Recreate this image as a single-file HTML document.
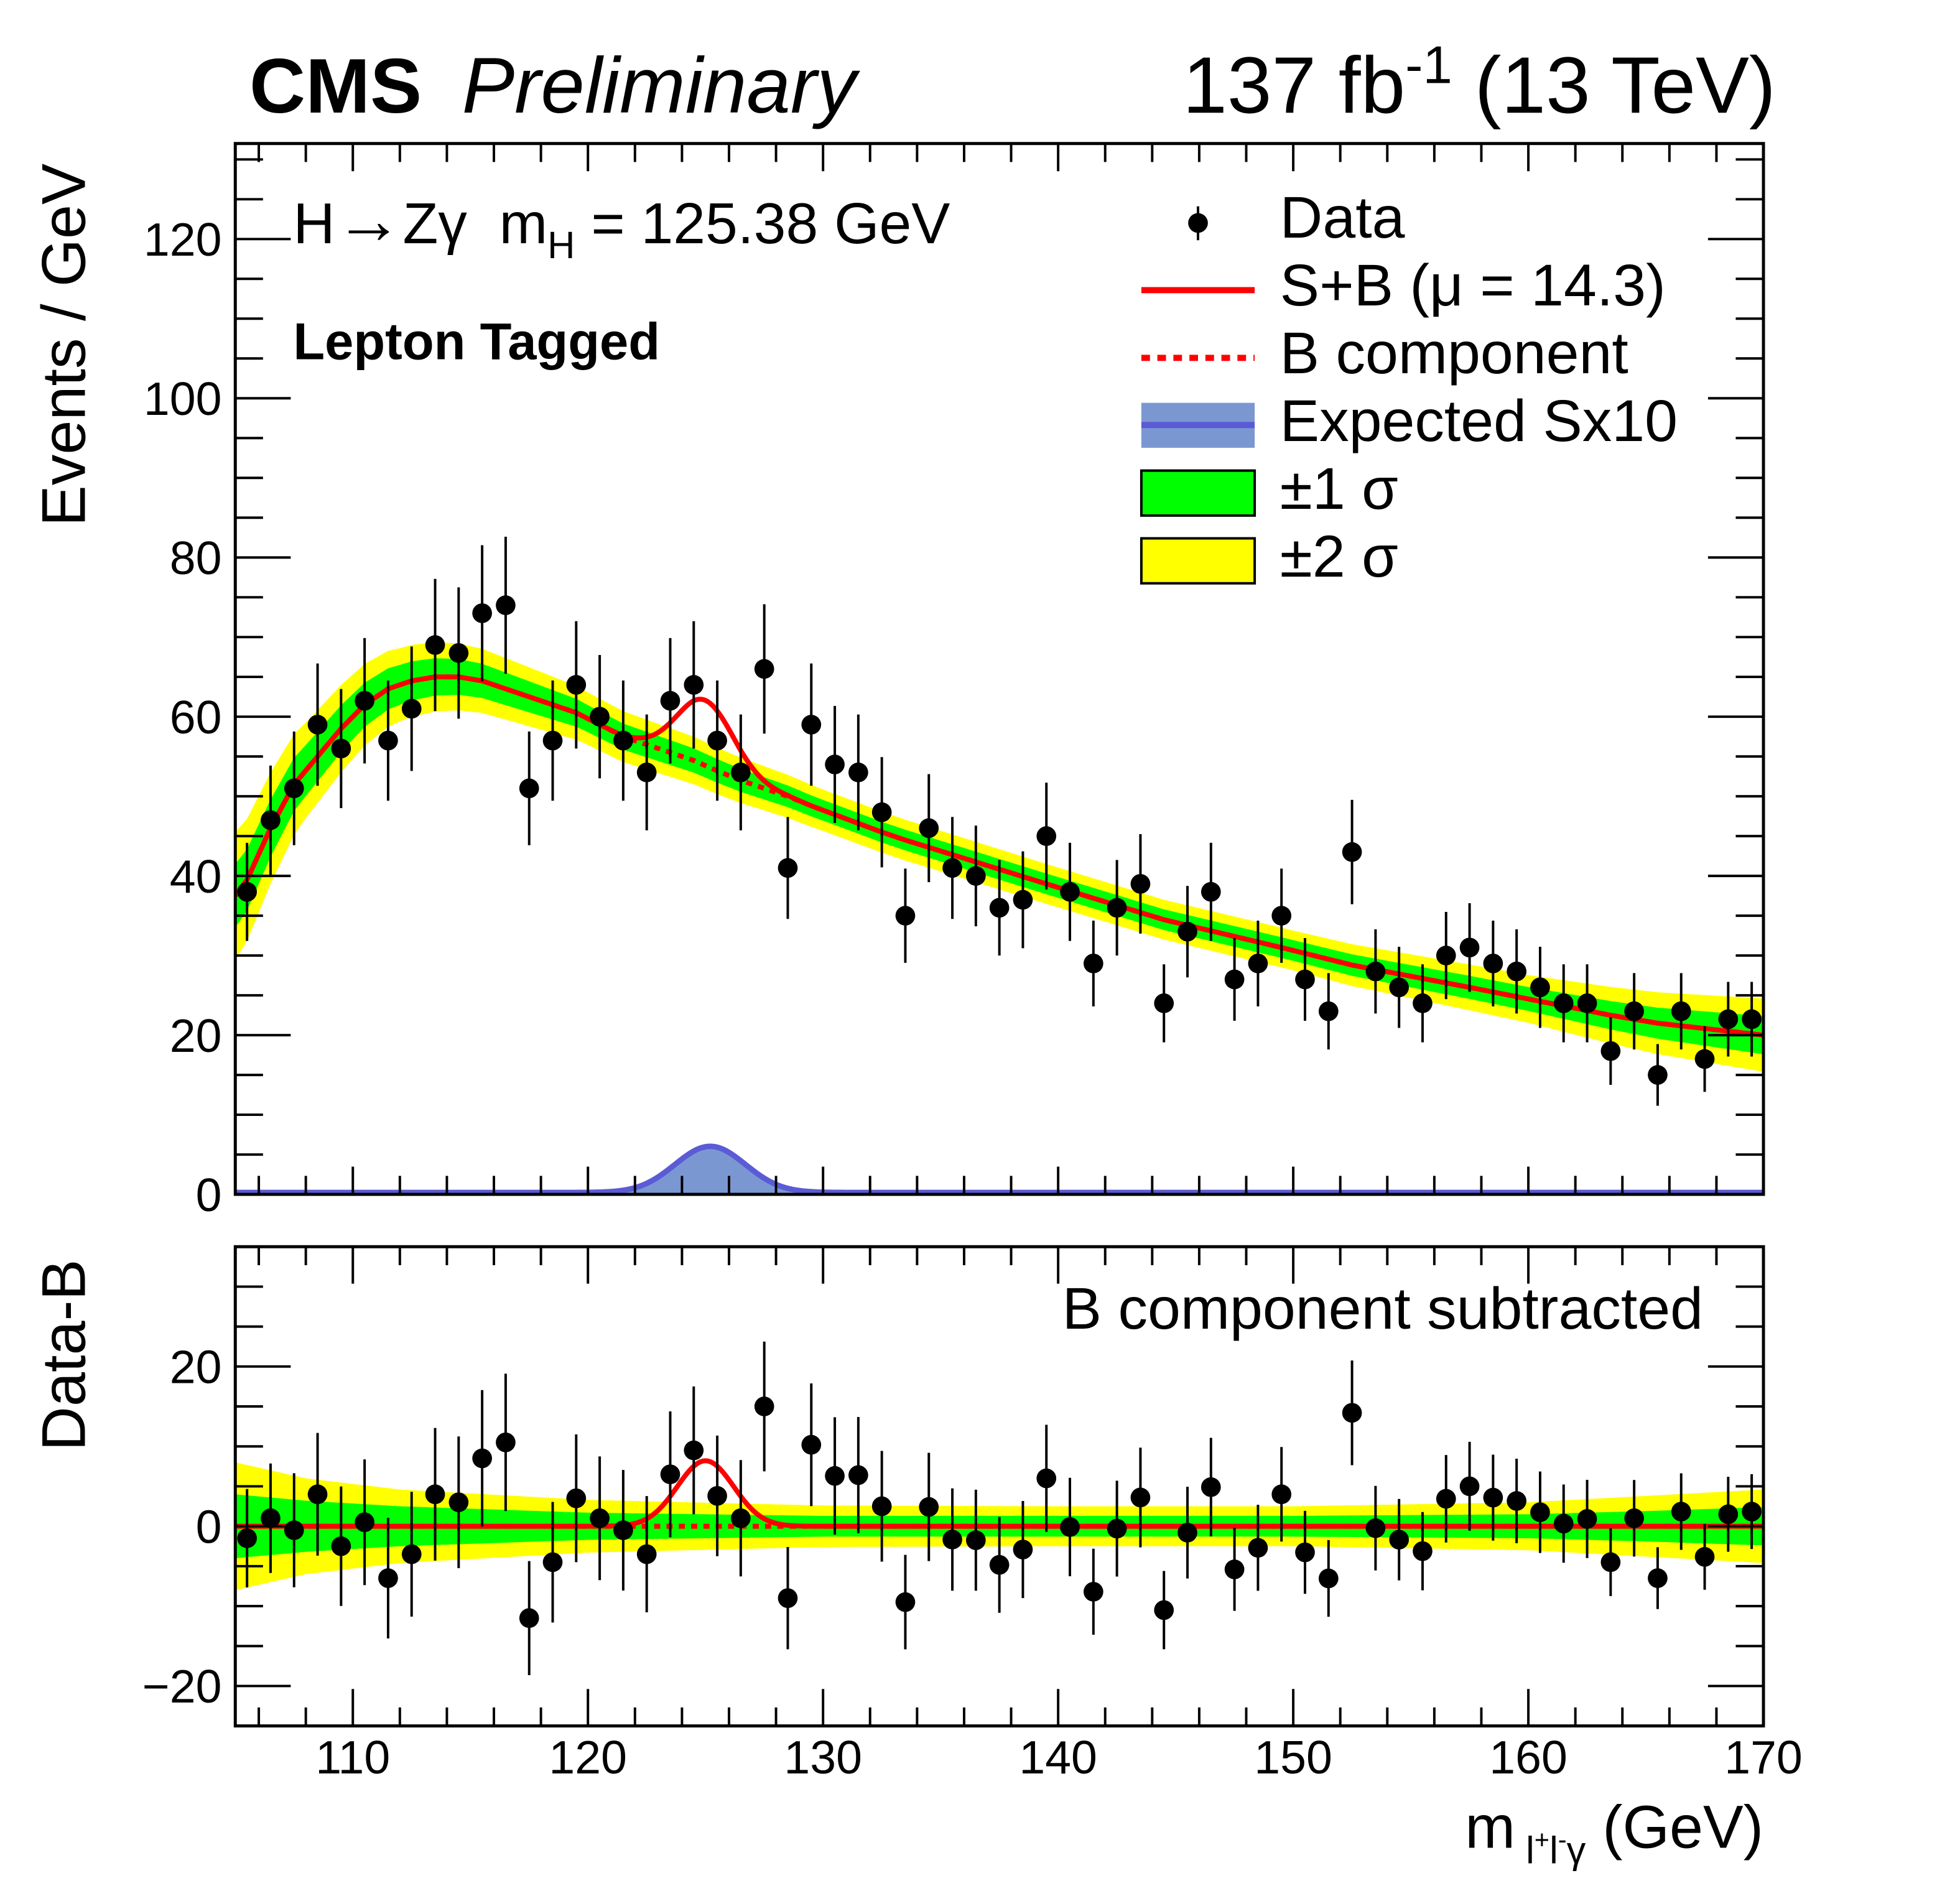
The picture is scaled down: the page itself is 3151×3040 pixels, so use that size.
<!DOCTYPE html>
<html><head><meta charset="utf-8"><style>
html,body{margin:0;padding:0;background:#fff;}
svg{display:block;font-family:"Liberation Sans",Arial,sans-serif;}
</style></head><body>
<svg id="c" width="3151" height="3040" viewBox="0 0 3182 3070" preserveAspectRatio="xMinYMin meet" xmlns="http://www.w3.org/2000/svg"></svg>
<script>
const binCenters=[105.5,106.5,107.5,108.5,109.5,110.5,111.5,112.5,113.5,114.5,115.5,116.5,117.5,118.5,119.5,120.5,121.5,122.5,123.5,124.5,125.5,126.5,127.5,128.5,129.5,130.5,131.5,132.5,133.5,134.5,135.5,136.5,137.5,138.5,139.5,140.5,141.5,142.5,143.5,144.5,145.5,146.5,147.5,148.5,149.5,150.5,151.5,152.5,153.5,154.5,155.5,156.5,157.5,158.5,159.5,160.5,161.5,162.5,163.5,164.5,165.5,166.5,167.5,168.5,169.5];
const dataCounts=[38,47,51,59,56,62,57,61,69,68,73,74,51,57,64,60,57,53,62,64,57,53,66,41,59,54,53,48,35,46,41,40,36,37,45,38,29,36,39,24,33,38,27,29,35,27,23,43,28,26,24,30,31,29,28,26,24,24,18,23,15,23,17,22,22];
const bkgMass=[105,105.5,106.5,107.5,108.5,109.5,110.5,111.5,112.5,113.5,114.5,115.5,116.5,117.5,118.5,119.5,120.5,121.5,122.5,123.5,124.5,125.5,126.5,127.5,128.5,129.5,132.5,133.5,139.5,144.5,149.5,152.5,157.5,163.5,165.5,170];
const bkgValue=[37.5,39.5,46,51.5,55,58.5,61.5,63.5,64.5,65,65,64.5,63.5,62.5,61.5,60.5,59,57.5,56.5,55.5,54.5,53.2,52,51,50,48.8,45.5,44.5,39,34.5,31,28.8,26,22.5,21.5,20];
const bandMass=[105,108,112,120,130,140,150,160,165,170];
const band1=[4,3.2,2.5,1.7,1.3,1.3,1.3,1.5,1.9,2.4];
const band2=[8,6,4.6,3.3,2.6,2.5,2.5,3,3.8,4.6];
const sigFit=[125.0,8.2,1.2];   // mass, peak, width
const sigExp=[125.2,5.8,1.5];
const xTicks=[110,120,130,140,150,160,170];
const yTicksTop=[0,20,40,60,80,100,120];
const yTicksBot=[-20,0,20];

const NS="http://www.w3.org/2000/svg";
const svg=document.getElementById('c');
const L=382,R=2863,T1=233,B1=1939,T2=2024,B2=2802;
const xmin=105,xmax=170;
const X=v=>L+(v-xmin)/(xmax-xmin)*(R-L);
const Y1=v=>B1-v/132*(B1-T1);
const Y2=v=>B2-(v+25)/60*(B2-T2);
function el(tag,attrs,parent){const e=document.createElementNS(NS,tag);for(const k in attrs)e.setAttribute(k,attrs[k]);(parent||svg).appendChild(e);return e;}
function interp(xs,ys,x){if(x<=xs[0])return ys[0];for(let i=1;i<xs.length;i++){if(x<=xs[i]){const t=(x-xs[i-1])/(xs[i]-xs[i-1]);return ys[i-1]+t*(ys[i]-ys[i-1]);}}return ys[ys.length-1];}
const B=x=>interp(bkgMass,bkgValue,x);
const gaus=(p,x)=>p[1]*Math.exp(-0.5*Math.pow((x-p[0])/p[2],2));
const grid=[];for(let x=xmin;x<=xmax+1e-9;x+=0.1)grid.push(x);

const defs=el('defs',{});
const cp1=el('clipPath',{id:'cp1'},defs);el('rect',{x:L,y:T1,width:R-L,height:B1-T1},cp1);
const cp2=el('clipPath',{id:'cp2'},defs);el('rect',{x:L,y:T2,width:R-L,height:B2-T2},cp2);

function panel(Y,cp,center,name){
  const g=el('g',{'clip-path':'url(#'+cp+')'});
  
  
  function band(arr,color,nm){
    let up=grid.map(x=>X(x)+','+Y(center(x)+interp(bandMass,arr,x)));
    let dn=grid.slice().reverse().map(x=>X(x)+','+Y(center(x)-interp(bandMass,arr,x)));
    const p=el('polygon',{points:up.concat(dn).join(' '),fill:color},g);
    
    
  }
  band(band2,'#ffff00',name+'-band-2sigma');
  band(band1,'#00ff00',name+'-band-1sigma');
  return g;
}
const bTop=x=>B(x), bBot=x=>0;
const g1=panel(Y1,'cp1',bTop,'upper');
const g2=panel(Y2,'cp2',bBot,'lower');

{
  let pts=grid.map(x=>X(x)+','+Y1(gaus(sigExp,x)));
  const f=el('polygon',{points:[X(xmin)+','+Y1(0)].concat(pts,[X(xmax)+','+Y1(0)]).join(' '),fill:'#7b97d2'},g1);
  
  
  const l=el('polyline',{points:grid.map(x=>X(x)+','+(Y1(gaus(sigExp,x))-3)).join(' '),fill:'none',stroke:'#5b5bd6','stroke-width':9},g1);
  
  
}
function curves(g,Y,base,nm){
  const d=el('polyline',{points:grid.map(x=>X(x)+','+Y(base(x))).join(' '),fill:'none',stroke:'#ff0000','stroke-width':8,'stroke-dasharray':'10 10'},g);
  
  
  const s=el('polyline',{points:grid.map(x=>X(x)+','+Y(base(x)+gaus(sigFit,x))).join(' '),fill:'none',stroke:'#ff0000','stroke-width':8},g);
  
  
}
curves(g1,Y1,bTop,'upper');
curves(g2,Y2,bBot,'lower');

function points(g,Y,valFn,nm){
  binCenters.forEach((m,i)=>{
    const n=dataCounts[i],e=Math.sqrt(n),v=valFn(m,n);
    const pg=el('g',{},g);
    
    
    el('line',{x1:X(m),x2:X(m),y1:Y(v-e),y2:Y(v+e),stroke:'#000','stroke-width':4},pg);
    el('circle',{cx:X(m),cy:Y(v),r:16,fill:'#000'},pg);
  });
}
points(g1,Y1,(m,n)=>n,'upper');
points(g2,Y2,(m,n)=>n-B(m),'lower');

function frame(T,Bt,Y,ymin,ymax,major,minor,labels,showX,nm){
  const f=el('rect',{x:L,y:T,width:R-L,height:Bt-T,fill:'none',stroke:'#000','stroke-width':5});
  
  
  for(let v=106;v<=170;v+=2){
    const maj=(v%10===0);const len=maj?(showX?60:45):30;
    el('line',{x1:X(v),x2:X(v),y1:Bt,y2:Bt-len,stroke:'#000','stroke-width':4});
    el('line',{x1:X(v),x2:X(v),y1:T,y2:T+len,stroke:'#000','stroke-width':4});
  }
  for(let v=Math.ceil(ymin/minor)*minor;v<=ymax;v+=minor){
    const maj=Math.abs(v/major-Math.round(v/major))<1e-6;const len=maj?90:45;
    el('line',{x1:L,x2:L+len,y1:Y(v),y2:Y(v),stroke:'#000','stroke-width':4});
    el('line',{x1:R,x2:R-len,y1:Y(v),y2:Y(v),stroke:'#000','stroke-width':4});
  }
  labels.forEach(v=>{
    const t=el('text',{x:L-22,y:Y(v)+27,'text-anchor':'end','font-size':76});
    t.textContent=(v<0?'\u2212'+(-v):String(v));
    
    
  });
}
frame(T1,B1,Y1,0,132,20,5,yTicksTop,false,'upper');
frame(T2,B2,Y2,-25,35,20,5,yTicksBot,true,'lower');
xTicks.forEach(v=>{
  const t=el('text',{x:X(v),y:2879,'text-anchor':'middle','font-size':76});
  t.textContent=String(v);
  
  
});

function txt(x,y,s,attrs,name){const t=el('text',Object.assign({x:x,y:y},attrs));t.innerHTML=s;return t;}
txt(405,183,'CMS',{'font-size':126,'font-weight':'bold'},'cms-label');
txt(750,183,'Preliminary',{'font-size':128,'font-style':'italic'},'preliminary-label');
txt(2883,183,'137 fb<tspan dy="-48" font-size="86">-1</tspan><tspan dy="48"> (13 TeV)</tspan>',{'font-size':130,'text-anchor':'end'},'lumi-label');
txt(476,395,'H<tspan font-size="110">\u2192</tspan>Z\u03b3\u00a0\u00a0m<tspan dy="24" font-size="62">H</tspan><tspan dy="-24"> = 125.38 GeV</tspan>',{'font-size':94},'process-label');
txt(476,583,'Lepton Tagged',{'font-size':84,'font-weight':'bold'},'category-label');
txt(2765,2157,'B component subtracted',{'font-size':96,'text-anchor':'end'},'subtracted-label');
txt(2863,3000,'m<tspan dy="25" font-size="62">\u00a0l<tspan dy="-24" font-size="42">+</tspan><tspan dy="24">l</tspan><tspan dy="-24" font-size="42">-</tspan><tspan dy="24">\u03b3</tspan></tspan><tspan dy="-25"> (GeV)</tspan>',{'font-size':98,'text-anchor':'end'},'x-axis-title');
txt(0,0,'Events / GeV',{'font-size':100,'text-anchor':'middle',transform:'translate(138,560) rotate(-90)'},'y-axis-title');
txt(0,0,'Data-B',{'font-size':100,'text-anchor':'middle',transform:'translate(138,2200) rotate(-90)'},'lower-y-axis-title');

const lg=el('g',{});


const lx=1853,tx=2078;
el('line',{x1:1945,x2:1945,y1:335,y2:390,stroke:'#000','stroke-width':4},lg);
el('circle',{cx:1945,cy:362,r:16,fill:'#000'},lg);
el('line',{x1:lx,x2:2037,y1:471,y2:471,stroke:'#f00','stroke-width':10},lg);
el('line',{x1:lx,x2:2037,y1:581,y2:581,stroke:'#f00','stroke-width':10,'stroke-dasharray':'14 12'},lg);
el('rect',{x:lx,y:654,width:184,height:73,fill:'#7b97d2'},lg);
el('line',{x1:lx,x2:2037,y1:690,y2:690,stroke:'#5b5bd6','stroke-width':10},lg);
el('rect',{x:lx,y:764,width:184,height:73,fill:'#00ff00',stroke:'#000','stroke-width':4},lg);
el('rect',{x:lx,y:874,width:184,height:73,fill:'#ffff00',stroke:'#000','stroke-width':4},lg);
[['Data',386],['S+B (\u03bc = 14.3)',496],['B component',606],['Expected Sx10',716],['\u00b11 \u03c3',826],['\u00b12 \u03c3',936]].forEach(a=>{
  const t=el('text',{x:tx,y:a[1],'font-size':96},lg);t.textContent=a[0];
  
  
});
</script>
</body></html>
